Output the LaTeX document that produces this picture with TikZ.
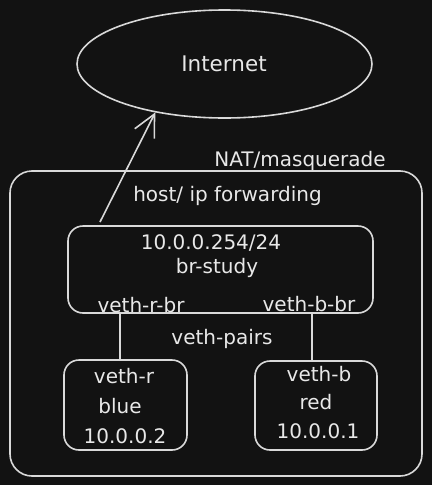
\documentclass[tikz,border=0pt]{standalone}
\usepackage{fontspec}
\setmainfont{DejaVu Sans}
\usetikzlibrary{arrows.meta,shapes.geometric}
\definecolor{bgc}{HTML}{121212}
\definecolor{linec}{HTML}{D9D9D9}
\definecolor{textc}{HTML}{E8E8E8}
\begin{document}
\begin{tikzpicture}[x=1pt,y=-1pt,
  sk/.style={draw=linec,line width=1.6pt},
  box/.style={sk,rounded corners=15pt,inner sep=0pt},
  lbl/.style={text=textc,inner sep=0pt,font=\fontsize{20pt}{23pt}\selectfont},
  conn/.style={draw=linec,line width=1.6pt}
]
\fill[bgc] (0,0) rectangle (432,485);
\useasboundingbox (0,0) rectangle (432,485);
% shapes
\node[sk,ellipse,minimum width=295pt,minimum height=108pt,inner sep=0pt] (inet) at (224.5,64) {};
\node[box,rounded corners=22pt,minimum width=412pt,minimum height=305pt] (host) at (216,323.5) {};
\node[box,minimum width=305pt,minimum height=87pt] (br) at (220.5,269.5) {};
\node[box,minimum width=123pt,minimum height=90pt] (blue) at (125.5,405) {};
\node[box,minimum width=122pt,minimum height=89pt] (red) at (316,405.5) {};
% labels
\node[lbl,font=\fontsize{21.5pt}{24pt}\selectfont] (tinet) at (224,64) {Internet};
\node[lbl] (tnat) at (300,161) {NAT/masquerade};
\node[lbl] (tfwd) at (227.5,196) {host/ ip forwarding};
\node[lbl] (tip) at (211,243) {10.0.0.254/24};
\node[lbl] (tbr) at (217,268) {br-study};
\node[lbl] (trbr) at (141,305) {veth-r-br};
\node[lbl] (tbbr) at (309,304) {veth-b-br};
\node[lbl] (tpairs) at (222,339) {veth-pairs};
\node[lbl] (tvr) at (124,376) {veth-r};
\node[lbl] (tblue) at (120,406) {blue};
\node[lbl] (tip2) at (125,436) {10.0.0.2};
\node[lbl] (tvb) at (319,374) {veth-b};
\node[lbl] (tred) at (316,402) {red};
\node[lbl] (tip1) at (318,431) {10.0.0.1};
% connectors
\coordinate (a0) at (100,222);
\coordinate (pl) at (120,0);
\coordinate (pr) at (312,0);
\draw[conn,-{Straight Barb[length=22pt,width=22pt,line width=1.6pt]}] (a0) -- (inet.215);
\draw[conn] (br.south -| pl) -- (blue.north -| pl);
\draw[conn] (br.south -| pr) -- (red.north -| pr);
\end{tikzpicture}
\end{document}
